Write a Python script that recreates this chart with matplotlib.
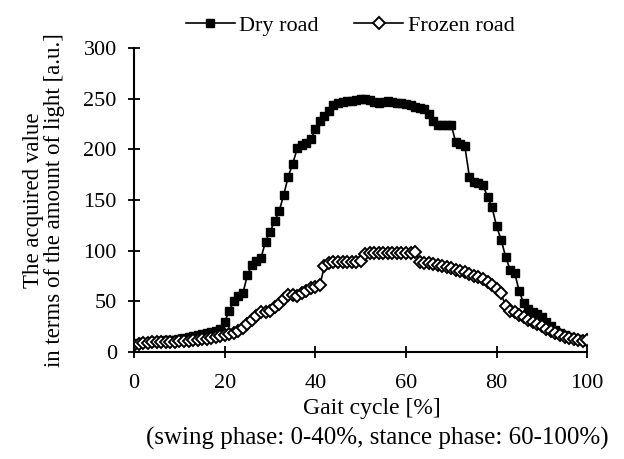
#!/usr/bin/env python3

import numpy as np
import matplotlib
matplotlib.use("Agg")
import matplotlib.pyplot as plt

gait = list(range(0, 101))

dry_road = [8, 9, 10, 10, 10, 11, 11, 12, 12, 12,
            13, 14, 15, 16, 17, 18, 19, 20, 21, 23,
            30, 41, 50, 55, 58, 76, 86, 90, 93, 109,
            119, 129, 139, 155, 173, 186, 201, 204, 206, 210,
            220, 228, 233, 238, 244, 246, 247, 248, 248, 249,
            250, 250, 249, 247, 246, 247, 248, 247, 246, 246,
            245, 244, 242, 241, 240, 235, 228, 224, 224, 224,
            224, 207, 205, 203, 173, 168, 167, 165, 153, 143,
            124, 111, 94, 81, 78, 60, 48, 43, 40, 38,
            35, 30, 26, 22, 19, 17, 15, 14, 13, 12,
            11]

frozen_road = [7, 8, 9, 9, 10, 10, 10, 10, 10, 10,
               11, 11, 11, 12, 12, 13, 13, 14, 15, 16,
               17, 18, 19, 21, 24, 28, 32, 36, 40, 40,
               41, 44, 47, 52, 56, 56, 55, 58, 60, 63,
               64, 66, 85, 88, 89, 89, 89, 89, 89, 89,
               90, 97, 98, 98, 98, 98, 98, 98, 98, 98,
               98, 98, 99, 89, 88, 88, 87, 86, 85, 84,
               83, 81, 80, 79, 77, 75, 74, 72, 69, 66,
               62, 58, 45, 41, 40, 37, 35, 32, 30, 28,
               26, 23, 21, 19, 17, 15, 14, 13, 12, 11,
               12]

x_ticks = [0, 20, 40, 60, 80, 100]
y_ticks = [0, 50, 100, 150, 200, 250, 300]


def main():
    plt.rcParams['font.family'] = ['Liberation Serif', 'DejaVu Serif']
    plt.rcParams['font.size'] = 16

    fig = plt.figure(figsize=(6.24, 4.59), dpi=100)
    ax = fig.add_axes([0.215, 0.233, 0.726, 0.662])

    ax.plot(gait, dry_road, color='black', lw=1.2, marker='s',
            markersize=5.5, markerfacecolor='black', markeredgecolor='black',
            label='Dry road')
    ax.plot(gait, frozen_road, color='black', lw=1.2, marker='D',
            markersize=6, markerfacecolor='white', markeredgecolor='black',
            markeredgewidth=1.4, label='Frozen road')

    ax.set_xlim(0, 100)
    ax.set_ylim(0, 300)
    ax.set_xticks(x_ticks)
    ax.set_yticks(y_ticks)
    ax.tick_params(direction='inout', length=9, width=1.3, colors='black',
                   labelsize=16)
    ax.tick_params(axis='x', pad=11)
    ax.tick_params(axis='y', pad=8)
    ax.spines['top'].set_visible(False)
    ax.spines['right'].set_visible(False)
    ax.spines['left'].set_linewidth(1.5)
    ax.spines['bottom'].set_linewidth(1.5)

    ax.set_xlabel('Gait cycle [%]', fontsize=17, labelpad=4)
    ax.xaxis.label.set_x(0.525)
    ax.text(0.537, -0.245, '(swing phase: 0-40%, stance phase: 60-100%)',
            transform=ax.transAxes, ha='center', va='top', fontsize=18)
    ax.set_ylabel('The acquired value\nin terms of the amount of light [a.u.]',
                  fontsize=16.5, linespacing=1.0, labelpad=13)

    ax.legend(loc='lower center', bbox_to_anchor=(0.477, 1.01),
              ncol=2, frameon=False, handlelength=2.2, handletextpad=0.2,
              columnspacing=1.6, borderaxespad=0.0, fontsize=16)

    fig.savefig('out.png', dpi=100)


if __name__ == '__main__':
    main()
